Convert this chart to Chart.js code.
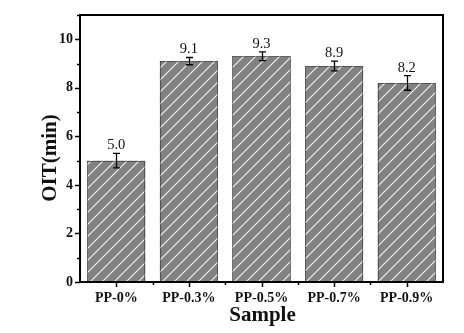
<!DOCTYPE html>
<html>
<head>
<meta charset="utf-8">
<script src="https://cdn.jsdelivr.net/npm/chart.js@4/dist/chart.umd.min.js"></script>
<style>
  html, body { margin: 0; padding: 0; background: #fff; }
  #wrap { width: 464px; height: 333px; position: relative; }
</style>
</head>
<body>
<div id="wrap"><canvas id="c" width="464" height="333"></canvas></div>
<script>
// Oxidation induction time per sample
const samples = ['PP-0%', 'PP-0.3%', 'PP-0.5%', 'PP-0.7%', 'PP-0.9%'];
const oitValues = [5.0, 9.1, 9.3, 8.9, 8.2];
const oitErrors = [0.3, 0.15, 0.18, 0.2, 0.3];
const valueLabels = ['5.0', '9.1', '9.3', '8.9', '8.2'];
const yTickLabels = ['0', '2', '4', '6', '8', '10'];

const SERIF = '"Liberation Serif", "Times New Roman", serif';

// Gray fill with white diagonal hatching
function makeHatch() {
  const s = 12;
  const p = document.createElement('canvas');
  p.width = s; p.height = s;
  const g = p.getContext('2d');
  g.fillStyle = '#828282';
  g.fillRect(0, 0, s, s);
  g.strokeStyle = '#f4f4f4';
  g.lineWidth = 1.1;
  g.beginPath();
  g.moveTo(-1, s + 1); g.lineTo(s + 1, -1);
  g.moveTo(-1, 1); g.lineTo(1, -1);
  g.moveTo(s - 1, s + 1); g.lineTo(s + 1, s - 1);
  g.stroke();
  return document.getElementById('c').getContext('2d').createPattern(p, 'repeat');
}

// Frame, ticks, titles, error bars and value labels
const decorations = {
  id: 'decorations',
  afterDatasetsDraw(chart) {
    const ctx = chart.ctx;
    const area = chart.chartArea;
    const xs = chart.scales.x, ys = chart.scales.y;
    const meta = chart.getDatasetMeta(0);
    ctx.save();

    // dotted bar outlines
    ctx.strokeStyle = '#222';
    ctx.lineWidth = 1;
    ctx.setLineDash([1, 1]);
    meta.data.forEach(bar => {
      const l = Math.round(bar.x - bar.width / 2) + 0.5;
      const r = Math.round(bar.x + bar.width / 2) - 0.5;
      const t = Math.round(bar.y) + 0.5;
      const b = Math.round(bar.base);
      ctx.strokeRect(l, t, r - l, b - t);
    });
    ctx.setLineDash([]);

    // error bars
    ctx.strokeStyle = '#000';
    ctx.lineWidth = 1.3;
    meta.data.forEach((bar, i) => {
      const x = Math.round(bar.x) + 0.5;
      const yt = ys.getPixelForValue(oitValues[i] + oitErrors[i]);
      const yb = ys.getPixelForValue(oitValues[i] - oitErrors[i]);
      ctx.beginPath();
      ctx.moveTo(x, yt); ctx.lineTo(x, yb);
      ctx.moveTo(x - 3.5, yt); ctx.lineTo(x + 3.5, yt);
      ctx.moveTo(x - 3.5, yb); ctx.lineTo(x + 3.5, yb);
      ctx.stroke();
    });

    // value labels
    ctx.fillStyle = '#111';
    ctx.font = '14.5px ' + SERIF;
    ctx.textAlign = 'center';
    ctx.textBaseline = 'alphabetic';
    meta.data.forEach((bar, i) => {
      const yt = ys.getPixelForValue(oitValues[i] + oitErrors[i]);
      ctx.fillText(valueLabels[i], bar.x, yt - 4);
    });

    // plot frame
    ctx.strokeStyle = '#000';
    ctx.lineWidth = 2;
    ctx.strokeRect(area.left, area.top, area.right - area.left, area.bottom - area.top);

    // y ticks: majors on even values, minors on odd
    ctx.lineWidth = 1.5;
    for (let v = 0; v <= 11; v++) {
      const y = Math.round(ys.getPixelForValue(v)) + 0.5;
      const len = v % 2 === 0 ? 5 : 3;
      ctx.beginPath();
      ctx.moveTo(area.left - len, y); ctx.lineTo(area.left, y);
      ctx.stroke();
    }
    ctx.font = 'bold 14px ' + SERIF;
    ctx.textAlign = 'right';
    ctx.textBaseline = 'middle';
    yTickLabels.forEach(lbl => {
      ctx.fillText(lbl, area.left - 7, ys.getPixelForValue(Number(lbl)));
    });

    // x ticks: majors at categories, minors between them
    for (let i = 0; i < samples.length; i++) {
      const xc = Math.round(xs.getPixelForValue(i)) + 0.5;
      ctx.beginPath();
      ctx.moveTo(xc, area.bottom); ctx.lineTo(xc, area.bottom + 5);
      ctx.stroke();
      if (i > 0) {
        const xm = Math.round((xs.getPixelForValue(i) + xs.getPixelForValue(i - 1)) / 2) + 0.5;
        ctx.beginPath();
        ctx.moveTo(xm, area.bottom); ctx.lineTo(xm, area.bottom + 3);
        ctx.stroke();
      }
    }
    ctx.font = 'bold 14px ' + SERIF;
    ctx.textAlign = 'center';
    ctx.textBaseline = 'middle';
    samples.forEach((s, i) => {
      ctx.fillText(s, xs.getPixelForValue(i), area.bottom + 16);
    });

    // axis titles
    ctx.font = 'bold 21px ' + SERIF;
    ctx.fillText('Sample', (area.left + area.right) / 2 + 1, area.bottom + 34);
    ctx.save();
    ctx.translate(51, 158);
    ctx.rotate(-Math.PI / 2);
    ctx.fillText('OIT(min)', 0, 0);
    ctx.restore();

    ctx.restore();
  }
};

new Chart(document.getElementById('c'), {
  type: 'bar',
  data: {
    labels: samples,
    datasets: [{
      data: oitValues,
      backgroundColor: makeHatch(),
      borderWidth: 0,
      categoryPercentage: 1,
      barPercentage: 0.8
    }]
  },
  options: {
    responsive: false,
    animation: false,
    devicePixelRatio: 1,
    layout: { padding: { top: 15, right: 21, left: 0, bottom: 0 } },
    plugins: { legend: { display: false }, tooltip: { enabled: false } },
    scales: {
      x: {
        grid: { display: false, drawTicks: false },
        border: { display: false },
        ticks: { display: false },
        afterFit(s) { s.height = 51; }
      },
      y: {
        min: 0, max: 11,
        grid: { display: false, drawTicks: false },
        border: { display: false },
        ticks: { display: false, stepSize: 1 },
        afterFit(s) { s.width = 80; }
      }
    }
  },
  plugins: [decorations]
});
</script>
</body>
</html>
